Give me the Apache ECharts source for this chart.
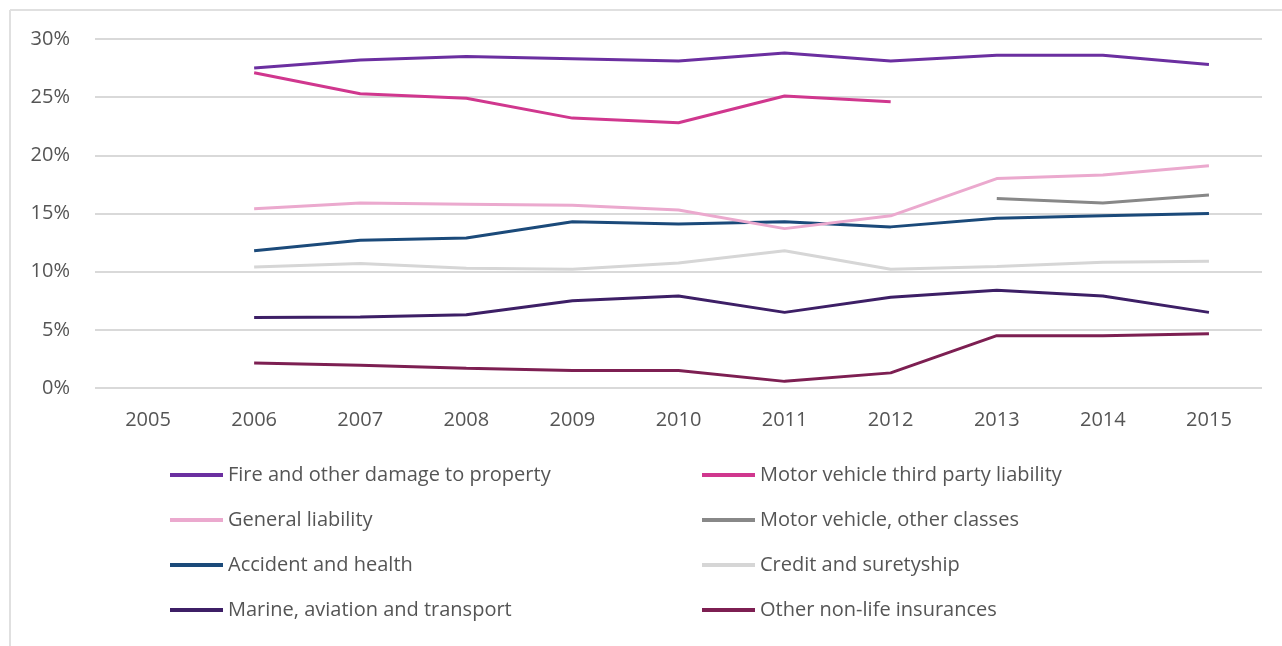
<!DOCTYPE html>
<html>
<head>
<meta charset="utf-8">
<script src="https://cdn.jsdelivr.net/npm/echarts@6/dist/echarts.min.js"></script>
<style>
html,body{margin:0;padding:0;background:#fff;}
#chart{width:1282px;height:646px;}
</style>
</head>
<body>
<div id="chart"></div>
<script>
const years = ['2005','2006','2007','2008','2009','2010','2011','2012','2013','2014','2015'];
const yTicks = [0, 5, 10, 15, 20, 25, 30];

const seriesNames = [
  'Fire and other damage to property',
  'Motor vehicle third party liability',
  'General liability',
  'Motor vehicle, other classes',
  'Accident and health',
  'Credit and suretyship',
  'Marine, aviation and transport',
  'Other non-life insurances'
];
const seriesColors = ['#6B2FA0', '#D0378E', '#EBA9CE', '#888888', '#1B4A7A', '#D6D6D6', '#3D1F66', '#7D1F52'];

const fire      = [null, 27.5, 28.2, 28.5, 28.3, 28.1, 28.8, 28.1, 28.6, 28.6, 27.8];
const motorTPL  = [null, 27.1, 25.3, 24.9, 23.2, 22.8, 25.1, 24.6, null, null, null];
const generalL  = [null, 15.4, 15.9, 15.8, 15.7, 15.3, 13.7, 14.8, 18.0, 18.3, 19.1];
const motorOth  = [null, null, null, null, null, null, null, null, 16.3, 15.9, 16.6];
const accident  = [null, 11.8, 12.7, 12.9, 14.3, 14.1, 14.3, 13.85, 14.6, 14.8, 15.0];
const credit    = [null, 10.4, 10.7, 10.3, 10.2, 10.75, 11.8, 10.2, 10.45, 10.8, 10.9];
const marine    = [null, 6.07, 6.1, 6.3, 7.5, 7.9, 6.5, 7.8, 8.4, 7.9, 6.5];
const otherNL   = [null, 2.15, 1.95, 1.7, 1.5, 1.5, 0.57, 1.3, 4.5, 4.5, 4.67];

const seriesData = [fire, motorTPL, generalL, motorOth, accident, credit, marine, otherNL];

const FONT = '"Open Sans"';
const chart = echarts.init(document.getElementById('chart'), null, {renderer: 'canvas'});

const series = seriesNames.map((name, i) => ({
  name: name,
  type: 'line',
  data: seriesData[i],
  symbol: 'none',
  connectNulls: false,
  lineStyle: {width: 3, color: seriesColors[i]},
  itemStyle: {color: seriesColors[i]},
  z: 10 - i
}));

const legendCommon = {
  orient: 'vertical',
  padding: 0,
  itemWidth: 53,
  itemHeight: 4,
  itemGap: 23,
  icon: 'rect',
  textStyle: {fontFamily: FONT, fontSize: 20, color: '#555', lineHeight: 22}
};

chart.setOption({
  animation: false,
  backgroundColor: '#fff',
  grid: {left: 95, right: 20, top: 39, bottom: 258, containLabel: false},
  xAxis: {
    type: 'category',
    data: years,
    boundaryGap: true,
    axisLine: {show: false},
    axisTick: {show: false},
    axisLabel: {fontFamily: FONT, fontSize: 20, color: '#555', margin: 22}
  },
  yAxis: {
    type: 'value',
    min: yTicks[0],
    max: yTicks[yTicks.length - 1],
    interval: 5,
    axisLine: {show: false},
    axisTick: {show: false},
    axisLabel: {fontFamily: FONT, fontSize: 20, color: '#555', margin: 25, formatter: v => v + '%'},
    splitLine: {lineStyle: {color: '#D9D9D9', width: 2}}
  },
  legend: [
    Object.assign({}, legendCommon, {
      left: 170, top: 464,
      data: [seriesNames[0], seriesNames[2], seriesNames[4], seriesNames[6]]
    }),
    Object.assign({}, legendCommon, {
      left: 702, top: 464,
      data: [seriesNames[1], seriesNames[3], seriesNames[5], seriesNames[7]]
    })
  ],
  graphic: [
    {type: 'line', shape: {x1: 10, y1: 10, x2: 1282, y2: 10}, style: {stroke: '#E0E0E0', lineWidth: 2}, silent: true},
    {type: 'line', shape: {x1: 10, y1: 10, x2: 10, y2: 646}, style: {stroke: '#E0E0E0', lineWidth: 2}, silent: true}
  ],
  series: series
});
</script>
</body>
</html>
